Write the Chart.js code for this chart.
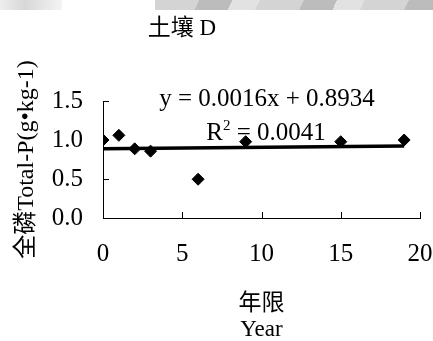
<!DOCTYPE html>
<html>
<head>
<meta charset="utf-8">
<script src="https://cdn.jsdelivr.net/npm/chart.js@4.4.1/dist/chart.umd.min.js"></script>
<style>
  body { margin: 0; background: #fff; }
  #wrap { position: relative; width: 433px; height: 341px; font-family: "Liberation Serif", "Noto Sans CJK SC", serif; }
  #wrap canvas { position: absolute; left: 0; top: 0; }
  .lbl { position: absolute; white-space: nowrap; color: #000; line-height: 1; transform: translateX(-50%); }
  .lbl sup { font-size: 15px; vertical-align: 10px; line-height: 0; }
  .scan { position: absolute; top: 0; height: 10px; }
</style>
</head>
<body>
<div id="wrap">
  <div class="scan" style="left:0;width:62px;background:linear-gradient(90deg,#eee,#d8d8d8 40%,#f4f4f4)"></div>
  <div class="scan" style="left:155px;width:278px;background:repeating-linear-gradient(115deg,#d4d4d4 0 40px,#bcbcbc 40px 70px,#e2e2e2 70px 95px)"></div>
  <canvas id="chart" width="433" height="341"></canvas>
  <div class="lbl" style="left:182px;top:16px;font-size:23px">土壤 D</div>
  <div class="lbl" style="left:267px;top:85px;font-size:25px">y = 0.0016x + 0.8934</div>
  <div class="lbl" style="left:266px;top:119px;font-size:25px">R<sup>2</sup> = 0.0041</div>
</div>
<script>
const years = [0, 1, 2, 3, 6, 9, 15, 19];
const totalP = [1.0, 1.06, 0.887, 0.857, 0.497, 0.978, 0.978, 1.0];
const trendYears = [0, 19];
const trendValues = [0.887, 0.922];
const xTicks = [0, 5, 10, 15, 20];
const yTicks = [0.0, 0.5, 1.0, 1.5];

const FONT = "'Liberation Serif', 'Noto Sans CJK SC', serif";

const points = years.map((x, i) => ({ x, y: totalP[i] }));
const trend = trendYears.map((x, i) => ({ x, y: trendValues[i] }));

// ticks pointing into the plot, like the original
const innerTicks = {
  id: "innerTicks",
  afterDatasetsDraw(chart) {
    const { ctx, chartArea, scales } = chart;
    ctx.save();
    ctx.strokeStyle = "#000";
    ctx.lineWidth = 1;
    ctx.beginPath();
    xTicks.forEach(v => {
      const px = Math.round(scales.x.getPixelForValue(v)) + 0.5;
      ctx.moveTo(px, chartArea.bottom);
      ctx.lineTo(px, chartArea.bottom - 6);
    });
    yTicks.forEach(v => {
      const py = Math.round(scales.y.getPixelForValue(v)) + 0.5;
      ctx.moveTo(chartArea.left, py);
      ctx.lineTo(chartArea.left + 6, py);
    });
    ctx.stroke();
    ctx.restore();
  }
};

new Chart(document.getElementById("chart"), {
  type: "scatter",
  data: {
    datasets: [
      {
        label: "Total-P",
        data: points,
        pointStyle: "rectRot",
        pointRadius: 6,
        pointBackgroundColor: "#000",
        pointBorderColor: "#000",
        order: 2
      },
      {
        type: "line",
        label: "trend",
        data: trend,
        borderColor: "#000",
        borderWidth: 3.5,
        pointRadius: 0,
        fill: false,
        order: 1
      }
    ]
  },
  options: {
    responsive: false,
    animation: false,
    layout: { padding: { left: 0, top: 101, right: 13, bottom: 0 } },
    plugins: { legend: { display: false }, tooltip: { enabled: false } },
    scales: {
      x: {
        type: "linear",
        min: 0,
        max: 20,
        afterBuildTicks: s => { s.ticks = xTicks.map(v => ({ value: v })); },
        afterFit: s => { s.height = 123; s.paddingLeft = 0; s.paddingRight = 0; },
        grid: { display: false, drawTicks: false },
        border: { display: true, color: "#000", width: 1 },
        ticks: { color: "#000", padding: 21, font: { family: FONT, size: 25 } },
        title: {
          display: true,
          text: ["年限", "Year"],
          color: "#000",
          padding: { top: 0, bottom: -2 },
          font: { family: FONT, size: 23, lineHeight: 1.13 }
        }
      },
      y: {
        min: 0,
        max: 1.5,
        afterBuildTicks: s => { s.ticks = yTicks.map(v => ({ value: v })); },
        afterFit: s => { s.width = 103; s.paddingTop = 0; s.paddingBottom = 0; },
        grid: { display: false, drawTicks: false },
        border: { display: true, color: "#000", width: 1 },
        ticks: { color: "#000", padding: 20, font: { family: FONT, size: 25 }, callback: v => v.toFixed(1) },
        title: {
          display: true,
          text: "全磷Total-P(g•kg-1)",
          color: "#000",
          padding: { top: 13, bottom: 0 },
          font: { family: FONT, size: 24, lineHeight: 1.13 }
        }
      }
    }
  },
  plugins: [innerTicks]
});
</script>
</body>
</html>
